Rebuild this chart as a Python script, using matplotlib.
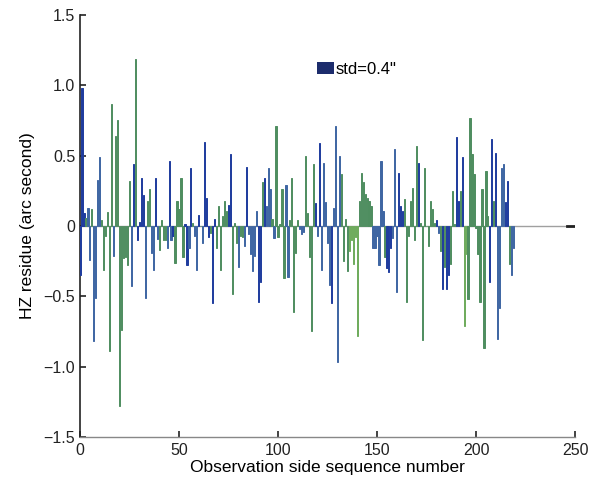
import matplotlib
matplotlib.use("Agg")
import matplotlib.pyplot as plt
from matplotlib.patches import Patch
import numpy as np

plt.rcParams['font.family'] = ['Liberation Sans', 'DejaVu Sans']

# residues, one per observation (index 0..219)
residue = [
    -0.35, 0.98, 0.095, 0.06, 0.13, -0.24, 0.12, -0.82, -0.51, 0.33,
    0.49, 0.04, -0.31, -0.07, 0.10, -0.89, 0.87, -0.21, 0.64, 0.75,
    -1.28, -0.74, -0.23, -0.22, -0.28, 0.32, -0.43, 0.44, 1.19, -0.10,
    0.03, 0.34, 0.22, -0.51, 0.18, 0.26, -0.19, -0.31, 0.34, -0.095,
    -0.17, 0.04, -0.10, -0.10, -0.16, 0.46, -0.10, -0.07, -0.26, 0.18,
    0.12, 0.34, -0.22, 0.015, -0.28, -0.16, 0.41, 0.02, -0.07, -0.31,
    0.08, 0.0, -0.12, 0.60, 0.20, -0.08, -0.05, -0.55, 0.05, -0.16,
    0.14, -0.31, 0.07, 0.18, 0.11, 0.15, 0.51, -0.48, 0.02, -0.12,
    -0.29, -0.07, -0.08, -0.14, 0.42, -0.06, -0.20, -0.32, -0.21, 0.11,
    -0.54, -0.40, 0.31, 0.34, 0.14, 0.41, 0.26, 0.05, -0.085, 0.71,
    -0.08, 0.015, 0.26, -0.37, 0.29, -0.36, 0.04, 0.34, -0.61, -0.19,
    0.04, -0.02, -0.06, -0.04, 0.50, 0.09, -0.22, -0.75, 0.44, 0.16,
    -0.07, 0.59, -0.31, 0.45, 0.17, -0.12, -0.42, -0.55, 0.13, 0.71,
    -0.97, 0.50, 0.37, -0.25, 0.05, -0.32, -0.18, -0.10, -0.27, -0.08,
    -0.78, 0.18, 0.38, 0.31, 0.23, 0.20, 0.18, 0.14, -0.16, -0.16,
    -0.07, -0.28, 0.46, 0.11, -0.22, -0.30, -0.33, -0.16, -0.085, 0.55,
    -0.47, 0.38, 0.14, 0.11, 0.19, -0.54, -0.07, 0.18, 0.27, -0.10,
    0.57, 0.45, 0.02, -0.81, 0.41, 0.0, -0.14, 0.18, 0.12, 0.02,
    0.04, -0.05, -0.18, -0.45, -0.29, -0.45, -0.35, -0.27, 0.25, 0.015,
    0.63, 0.18, 0.25, 0.49, -0.71, -0.20, -0.52, 0.77, 0.51, 0.37,
    -0.015, -0.20, -0.54, 0.26, -0.87, 0.39, 0.07, -0.40, 0.62, 0.18,
    0.52, -0.80, -0.58, 0.41, 0.44, 0.17, 0.32, -0.27, -0.35, -0.16,
]

# colour class of each bar: B dark blue, S steel blue, G green, L light green
bar_class = (
    "BBBGSSGSSSSGGGGGGSGGGGGGGGSBGBBBBSGGSSBSG"
    "GGGSBSBGGGGGBBSBGSSBGSBBBGBBGGGGGGBBGGGS"
    "GGSBSSSSSBBGBSSSGSGGGGGSSGGGGGSSSGGGGGBS"
    "BSSSSSBSSSSGGGGLLLLLGGGGGGGSSSSSSGBBBSSS"
    "BBBGGGGGGGBGGGGGGGGBSGBGBBGGGBBGBLLGGGGG"
    "GGGGGGBBGBSSSSBBGSS"
)
class_colors = {"B": "#1f3c9e", "S": "#3f66a3", "G": "#4f8e60", "L": "#6eab5c"}

tick_x = [0, 50, 100, 150, 200, 250]
tick_y = [-1.5, -1.0, -0.5, 0, 0.5, 1.0, 1.5]
tick_y_labels = ["\u22121.5", "\u22121.0", "\u22120.5", "0", "0.5", "1.0", "1.5"]

fig = plt.figure(figsize=(5.9, 4.93), dpi=100)
ax = fig.add_axes([0.1356, 0.1136, 0.839, 0.856])

idx = np.arange(len(residue))
colors = [class_colors[c] for c in bar_class[:len(residue)]]
ax.axhline(0, color="#a0a0a0", lw=1.0, zorder=1)
ax.plot([246, 250], [0, 0], color="#222222", lw=2, zorder=2)
ax.bar(idx, residue, width=0.6, color=colors, edgecolor=colors,
       linewidth=0.7, zorder=3)

ax.set_xlim(0, 250)
ax.set_ylim(-1.5, 1.5)
ax.set_xticks(tick_x)
ax.set_yticks(tick_y)
ax.set_yticklabels(tick_y_labels)
ax.tick_params(direction="in", length=4, width=1.2, labelsize=11.5,
               colors="#222222")
ax.tick_params(axis="x", pad=4)

for side in ("top", "right"):
    ax.spines[side].set_visible(False)
ax.spines["left"].set_color("#222222")
ax.spines["left"].set_linewidth(1.2)
ax.spines["bottom"].set_color("#888888")
ax.spines["bottom"].set_linewidth(1.0)

ax.set_xlabel("Observation side sequence number", fontsize=12.5, labelpad=2)
ax.set_ylabel("HZ residue (arc second)", fontsize=12.5, labelpad=6)

ax.legend(handles=[Patch(facecolor="#1c2c6c")], labels=['std=0.4"'],
          loc="upper left", bbox_to_anchor=(0.466, 0.905), frameon=False,
          handlelength=1.0, handleheight=0.7, handletextpad=0.1,
          fontsize=12, borderaxespad=0)

fig.savefig("out.png", dpi=100)
